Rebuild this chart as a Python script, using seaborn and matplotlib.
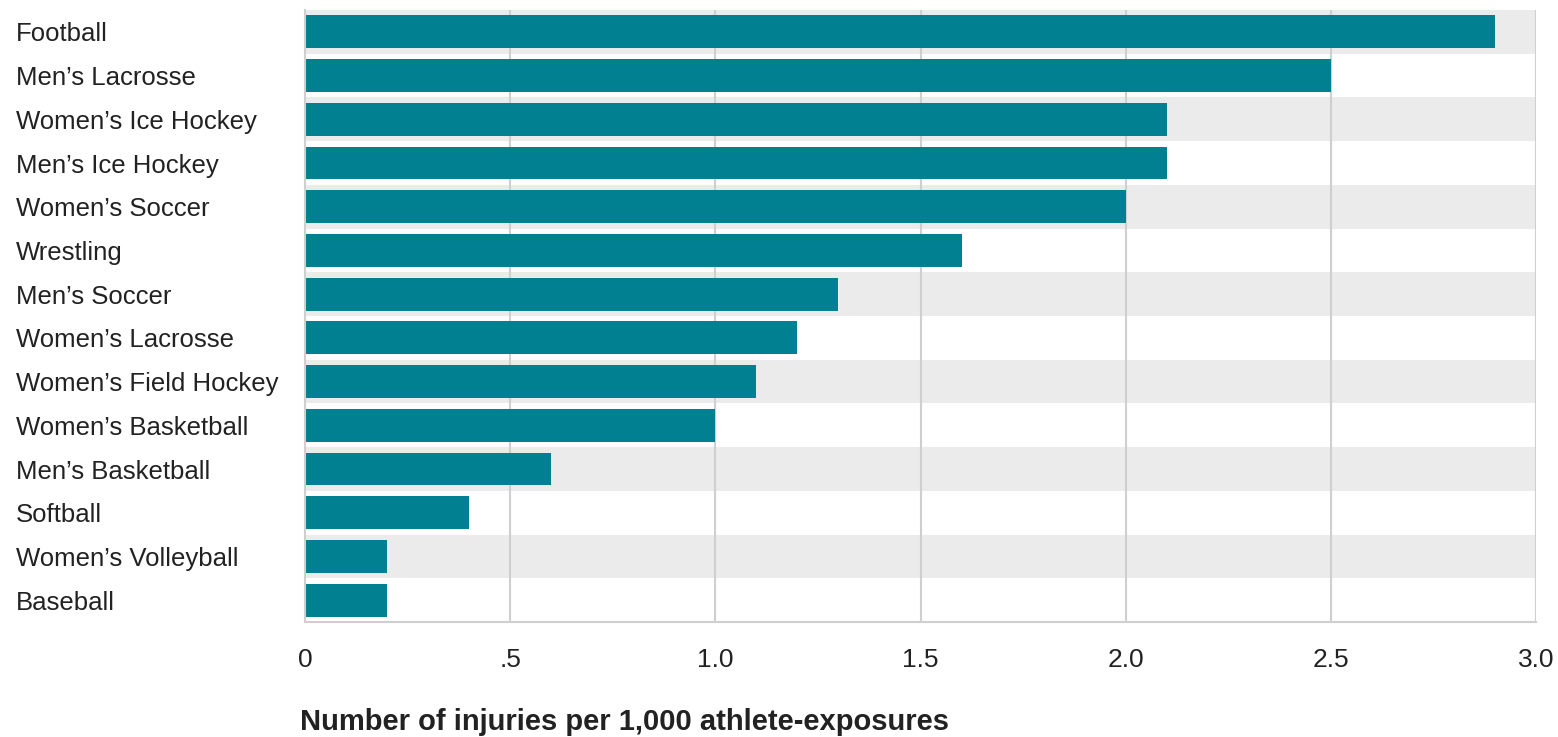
import matplotlib
matplotlib.use("Agg")
import matplotlib.pyplot as plt
import seaborn as sns
import pandas as pd

sports = ["Football", "Men\u2019s Lacrosse", "Women\u2019s Ice Hockey", "Men\u2019s Ice Hockey",
          "Women\u2019s Soccer", "Wrestling", "Men\u2019s Soccer", "Women\u2019s Lacrosse",
          "Women\u2019s Field Hockey", "Women\u2019s Basketball", "Men\u2019s Basketball",
          "Softball", "Women\u2019s Volleyball", "Baseball"]
rates = [2.9, 2.5, 2.1, 2.1, 2.0, 1.6, 1.3, 1.2, 1.1, 1.0, 0.6, 0.4, 0.2, 0.2]
xticks = [0, 0.5, 1.0, 1.5, 2.0, 2.5, 3.0]
xticklabels = ["0", ".5", "1.0", "1.5", "2.0", "2.5", "3.0"]
xlabel = "Number of injuries per 1,000 athlete-exposures"

df = pd.DataFrame({"sport": sports, "rate": rates})

sns.set_theme(style="white")
plt.rcParams['font.family'] = ['Liberation Sans', 'DejaVu Sans']

fig = plt.figure(figsize=(15.58, 7.37), dpi=100)
ax = fig.add_axes([305/1558, 1 - 622/737, (1536 - 305)/1558, (622 - 10)/737])

# alternating bands
for i in range(len(sports)):
    if i % 2 == 0:
        ax.axhspan(i - 0.5, i + 0.5, color="#ebebeb", zorder=0, lw=0)

for x in xticks[1:]:
    ax.axvline(x, color="#cfcfcf", lw=1.5, zorder=0.5)

sns.barplot(data=df, x="rate", y="sport", orient="h", color="#008090",
            saturation=1, width=0.75, ax=ax, zorder=2, linewidth=0)

ax.set_xlim(0, 3.0)
ax.set_ylim(len(sports) - 0.5, -0.5)
ax.set_xticks(xticks)
ax.set_xticklabels(xticklabels, fontsize=19, color="#222222")
ax.tick_params(axis="x", length=0, pad=19)
ax.tick_params(axis="y", length=0, pad=208)
for lbl in ax.get_yticklabels():
    lbl.set_ha("left")
    lbl.set_fontsize(18.5)
    lbl.set_color("#222222")
ax.set_ylabel("")
ax.set_xlabel("")

for s in ["top", "right"]:
    ax.spines[s].set_visible(False)
ax.spines["left"].set_color("#cfcfcf")
ax.spines["left"].set_linewidth(1.5)
ax.spines["bottom"].set_color("#cfcfcf")
ax.spines["bottom"].set_linewidth(1.5)

fig.text(300/1558, 1 - 722/737, xlabel, fontsize=21, fontweight="bold",
         color="#222222", ha="left", va="center")

fig.savefig("out.png", dpi=100)
